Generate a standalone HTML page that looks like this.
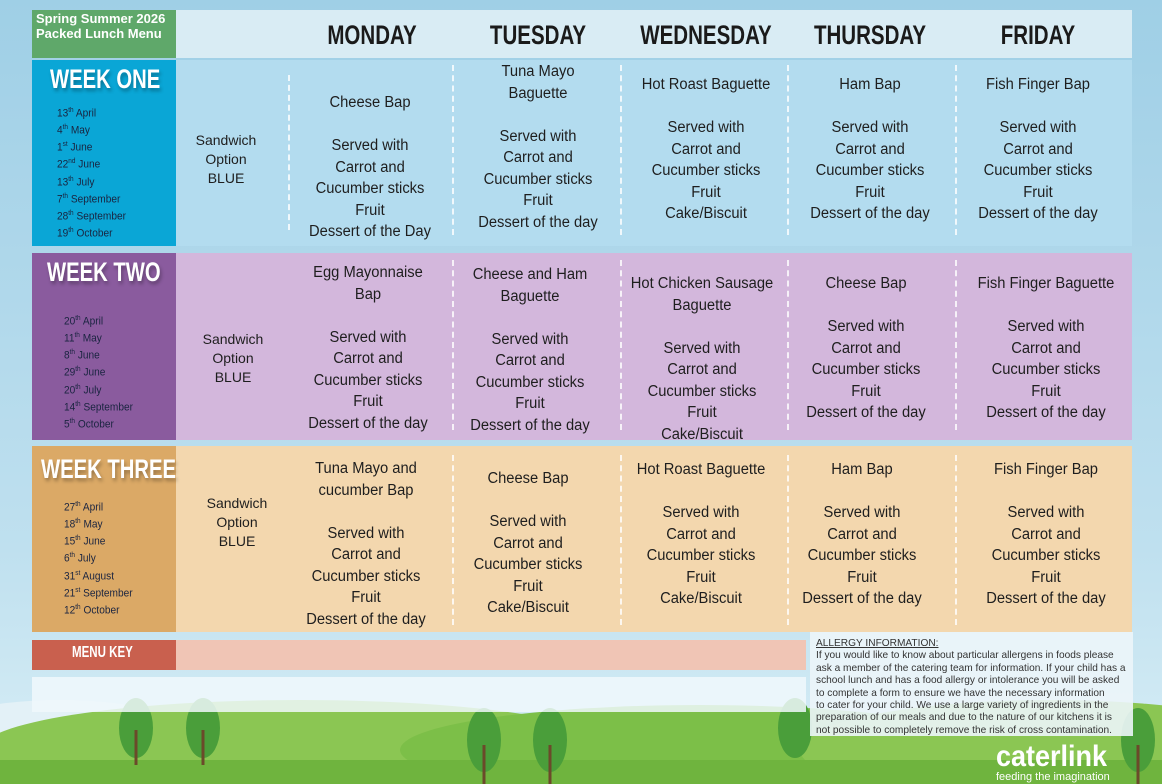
<!DOCTYPE html>
<html><head><meta charset="utf-8"><style>
*{margin:0;padding:0;box-sizing:border-box}
body{width:1162px;height:784px;position:relative;overflow:hidden;background:linear-gradient(#9fcfe6,#bfe0ef 70%,#d8eef6);font-family:"Liberation Sans",sans-serif}
.a{position:absolute}
.t{position:absolute;width:200px;text-align:center;font-size:15.5px;line-height:21.5px;color:#1e1e1e;white-space:nowrap;transform:scaleX(0.95)}
.s{position:absolute;width:120px;text-align:center;font-size:14px;line-height:19px;color:#1e1e1e}
.d{position:absolute;left:57px;font-size:11px;line-height:14.5px;color:#1a2440;transform:scaleX(.92);transform-origin:left}
.d sup{font-size:7px}
.h{position:absolute;font-weight:bold;font-size:27px;color:#1a1a1a;transform:scaleX(0.76);transform-origin:center;width:220px;text-align:center;top:20px}
.w{position:absolute;font-weight:bold;font-size:27px;color:#fff;transform:scaleX(0.75);transform-origin:left;text-shadow:2px 3px 4px rgba(0,0,0,.3);white-space:nowrap}
.sep{position:absolute;width:0;border-left:2px dashed rgba(255,255,255,.8)}
</style></head><body>
<svg class="a" style="left:0;top:600px" width="1162" height="184">
<ellipse cx="60" cy="140" rx="140" ry="40" fill="#e3f1f7"/>
<ellipse cx="300" cy="150" rx="320" ry="50" fill="#8bc653"/>
<ellipse cx="700" cy="150" rx="300" ry="45" fill="#7cbf48"/>
<ellipse cx="1050" cy="150" rx="250" ry="50" fill="#8bc653"/>
<rect x="0" y="160" width="1162" height="30" fill="#6fb43e"/>
<g fill="#4a9e3a"><ellipse cx="136" cy="128" rx="17" ry="30"/><ellipse cx="203" cy="128" rx="17" ry="30"/><ellipse cx="484" cy="140" rx="17" ry="32"/><ellipse cx="550" cy="140" rx="17" ry="32"/><ellipse cx="795" cy="128" rx="17" ry="30"/><ellipse cx="1138" cy="140" rx="17" ry="32"/></g>
<g stroke="#6b4a2a" stroke-width="3"><line x1="136" y1="130" x2="136" y2="165"/><line x1="203" y1="130" x2="203" y2="165"/><line x1="484" y1="145" x2="484" y2="184"/><line x1="550" y1="145" x2="550" y2="184"/><line x1="1138" y1="145" x2="1138" y2="184"/></g>
</svg>
<div class="a" style="left:32px;top:10px;width:144px;height:48px;background:#5fa86a"></div>
<div class="a" style="left:36px;top:11px;color:#fff;font-weight:bold;font-size:13px;line-height:15px">Spring Summer 2026<br>Packed Lunch Menu</div>
<div class="a" style="left:176px;top:10px;width:956px;height:48px;background:#d9ecf4"></div>
<div class="h" style="left:262px">MONDAY</div>
<div class="h" style="left:428px">TUESDAY</div>
<div class="h" style="left:596px">WEDNESDAY</div>
<div class="h" style="left:760px">THURSDAY</div>
<div class="h" style="left:928px">FRIDAY</div>
<div class="a" style="left:32px;top:60px;width:144px;height:186px;background:#0aa6d6"></div>
<div class="a" style="left:176px;top:60px;width:956px;height:186px;background:#b3dcef"></div>
<div class="a" style="left:32px;top:253px;width:144px;height:187px;background:#8a5b9e"></div>
<div class="a" style="left:176px;top:253px;width:956px;height:187px;background:#d3b7dc"></div>
<div class="a" style="left:32px;top:446px;width:144px;height:186px;background:#dba966"></div>
<div class="a" style="left:176px;top:446px;width:956px;height:186px;background:#f3d7ae"></div>
<div class="a" style="left:32px;top:640px;width:144px;height:30px;background:#c9604e"></div>
<div class="a" style="left:72px;top:644px;color:#fff;font-weight:bold;font-size:16px;transform:scaleX(.72);transform-origin:left">MENU KEY</div>
<div class="a" style="left:176px;top:640px;width:630px;height:30px;background:#f0c5b5"></div>
<div class="a" style="left:32px;top:677px;width:774px;height:35px;background:rgba(240,248,252,.85)"></div>
<div class="a" style="left:810px;top:632px;width:323px;height:104px;background:rgba(236,245,249,.9)"></div>
<div class="a" style="left:816px;top:638px;font-size:10.3px;line-height:12.4px;color:#333;width:360px;white-space:nowrap;transform:scaleX(.985);transform-origin:left">
<u>ALLERGY INFORMATION:</u><br>If you would like to know about particular allergens in foods please<br>ask a member of the catering team for information. If your child has a<br>school lunch and has a food allergy or intolerance you will be asked<br>to complete a form to ensure we have the necessary information<br>to cater for your child. We use a large variety of ingredients in the<br>preparation of our meals and due to the nature of our kitchens it is<br>not possible to completely remove the risk of cross contamination.</div>
<div class="a" style="left:996px;top:742px;color:#fff;font-weight:bold;font-size:30px;line-height:30px;transform:scaleX(.9);transform-origin:left">caterlink</div>
<div class="a" style="left:996px;top:771px;color:#fff;font-size:11px">feeding the imagination</div>
<div class="sep" style="left:288px;top:75px;height:155px"></div>
<div class="sep" style="left:452px;top:65px;height:170px"></div>
<div class="sep" style="left:620px;top:65px;height:170px"></div>
<div class="sep" style="left:787px;top:65px;height:170px"></div>
<div class="sep" style="left:955px;top:65px;height:170px"></div>
<div class="sep" style="left:452px;top:260px;height:170px"></div>
<div class="sep" style="left:620px;top:260px;height:170px"></div>
<div class="sep" style="left:787px;top:260px;height:170px"></div>
<div class="sep" style="left:955px;top:260px;height:170px"></div>
<div class="sep" style="left:452px;top:455px;height:170px"></div>
<div class="sep" style="left:620px;top:455px;height:170px"></div>
<div class="sep" style="left:787px;top:455px;height:170px"></div>
<div class="sep" style="left:955px;top:455px;height:170px"></div>
<div class="w" style="left:50px;top:64px">WEEK ONE</div>
<div class="w" style="left:47px;top:257px">WEEK TWO</div>
<div class="w" style="left:41px;top:454px">WEEK THREE</div>
<div class="d" style="top:104px">13<sup>th</sup> April<br>4<sup>th</sup> May<br>1<sup>st</sup> June<br>22<sup>nd</sup> June<br>13<sup>th</sup> July<br>7<sup>th</sup> September<br>28<sup>th</sup> September<br>19<sup>th</sup> October</div>
<div class="d" style="top:312px;left:64px">20<sup>th</sup> April<br>11<sup>th</sup> May<br>8<sup>th</sup> June<br>29<sup>th</sup> June<br>20<sup>th</sup> July<br>14<sup>th</sup> September<br>5<sup>th</sup> October</div>
<div class="d" style="top:498px;left:64px">27<sup>th</sup> April<br>18<sup>th</sup> May<br>15<sup>th</sup> June<br>6<sup>th</sup> July<br>31<sup>st</sup> August<br>21<sup>st</sup> September<br>12<sup>th</sup> October</div>
<div class="s" style="left:166px;top:131px">Sandwich<br>Option<br>BLUE</div>
<div class="s" style="left:173px;top:330px">Sandwich<br>Option<br>BLUE</div>
<div class="s" style="left:177px;top:494px">Sandwich<br>Option<br>BLUE</div>
<div class="t" style="left:270px;top:92px">Cheese Bap<br><br>Served with<br>Carrot and<br>Cucumber sticks<br>Fruit<br>Dessert of the Day</div>
<div class="t" style="left:438px;top:61px">Tuna Mayo<br>Baguette<br><br>Served with<br>Carrot and<br>Cucumber sticks<br>Fruit<br>Dessert of the day</div>
<div class="t" style="left:606px;top:74px">Hot Roast Baguette<br><br>Served with<br>Carrot and<br>Cucumber sticks<br>Fruit<br>Cake/Biscuit</div>
<div class="t" style="left:770px;top:74px">Ham Bap<br><br>Served with<br>Carrot and<br>Cucumber sticks<br>Fruit<br>Dessert of the day</div>
<div class="t" style="left:938px;top:74px">Fish Finger Bap<br><br>Served with<br>Carrot and<br>Cucumber sticks<br>Fruit<br>Dessert of the day</div>
<div class="t" style="left:268px;top:262px">Egg Mayonnaise<br>Bap<br><br>Served with<br>Carrot and<br>Cucumber sticks<br>Fruit<br>Dessert of the day</div>
<div class="t" style="left:430px;top:264px">Cheese and Ham<br>Baguette<br><br>Served with<br>Carrot and<br>Cucumber sticks<br>Fruit<br>Dessert of the day</div>
<div class="t" style="left:602px;top:273px">Hot Chicken Sausage<br>Baguette<br><br>Served with<br>Carrot and<br>Cucumber sticks<br>Fruit<br>Cake/Biscuit</div>
<div class="t" style="left:766px;top:273px">Cheese Bap<br><br>Served with<br>Carrot and<br>Cucumber sticks<br>Fruit<br>Dessert of the day</div>
<div class="t" style="left:946px;top:273px">Fish Finger Baguette<br><br>Served with<br>Carrot and<br>Cucumber sticks<br>Fruit<br>Dessert of the day</div>
<div class="t" style="left:266px;top:458px">Tuna Mayo and<br>cucumber Bap<br><br>Served with<br>Carrot and<br>Cucumber sticks<br>Fruit<br>Dessert of the day</div>
<div class="t" style="left:428px;top:468px">Cheese Bap<br><br>Served with<br>Carrot and<br>Cucumber sticks<br>Fruit<br>Cake/Biscuit</div>
<div class="t" style="left:601px;top:459px">Hot Roast Baguette<br><br>Served with<br>Carrot and<br>Cucumber sticks<br>Fruit<br>Cake/Biscuit</div>
<div class="t" style="left:762px;top:459px">Ham Bap<br><br>Served with<br>Carrot and<br>Cucumber sticks<br>Fruit<br>Dessert of the day</div>
<div class="t" style="left:946px;top:459px">Fish Finger Bap<br><br>Served with<br>Carrot and<br>Cucumber sticks<br>Fruit<br>Dessert of the day</div>
</body></html>
